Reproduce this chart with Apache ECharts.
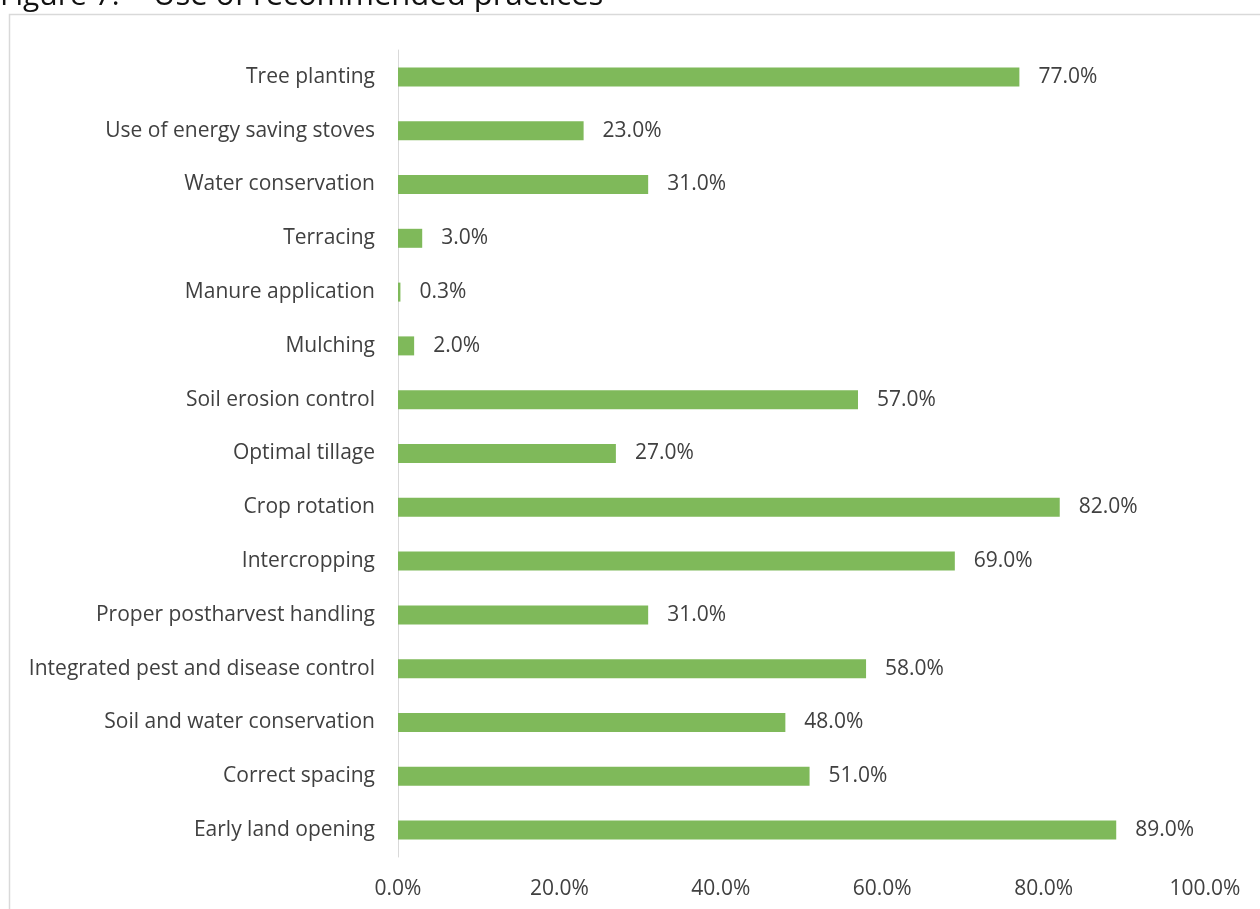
<!DOCTYPE html>
<html>
<head>
<meta charset="utf-8">
<script src="https://cdn.jsdelivr.net/npm/echarts@6/dist/echarts.min.js"></script>
<style>
  html, body { margin: 0; padding: 0; background: #fff; }
  #chart { width: 1260px; height: 909px; }
</style>
</head>
<body>
<div id="chart"></div>
<script>
// Practices, listed bottom to top as the category axis draws them
const practices = [
  'Early land opening',
  'Correct spacing',
  'Soil and water conservation',
  'Integrated pest and disease control',
  'Proper postharvest handling',
  'Intercropping',
  'Crop rotation',
  'Optimal tillage',
  'Soil erosion control',
  'Mulching',
  'Manure application',
  'Terracing',
  'Water conservation',
  'Use of energy saving stoves',
  'Tree planting'
];
// Share of respondents using each practice (%)
const usage = [89.0, 51.0, 48.0, 58.0, 31.0, 69.0, 82.0, 27.0, 57.0, 2.0, 0.3, 3.0, 31.0, 23.0, 77.0];
const xTicks = [0, 20, 40, 60, 80, 100];

const font = 'Open Sans, Noto Sans, sans-serif';
const chart = echarts.init(document.getElementById('chart'));
chart.setOption({
  animation: false,
  graphic: [
    {
      type: 'text', left: 0, top: -19,
      style: { text: 'Figure 7:', font: '30px ' + font, fill: '#111' }
    },
    {
      type: 'text', left: 153, top: -19,
      style: { text: 'Use of recommended practices', font: '31px ' + font, fill: '#111' }
    },
    {
      type: 'rect', shape: { x: 9.5, y: 14.5, width: 1300, height: 950 },
      style: { fill: 'none', stroke: '#d9d9d9', lineWidth: 1.5 }
    }
  ],
  grid: { left: 398, right: 55, top: 50, bottom: 52, containLabel: false },
  xAxis: {
    type: 'value', min: 0, max: 100, interval: 20,
    axisLine: { show: false }, axisTick: { show: false },
    splitLine: { show: false },
    axisLabel: {
      margin: 22, color: '#404040', fontSize: 21, fontFamily: font,
      formatter: v => xTicks.includes(v) ? v.toFixed(1) + '%' : ''
    }
  },
  yAxis: {
    type: 'category', data: practices,
    axisLine: { show: true, lineStyle: { color: '#d9d9d9', width: 1 } },
    axisTick: { show: false },
    axisLabel: { margin: 23, color: '#404040', fontSize: 21, fontFamily: font }
  },
  series: [{
    type: 'bar', data: usage, barWidth: 19,
    itemStyle: { color: '#7fb95a' },
    label: {
      show: true, position: 'right', distance: 19,
      color: '#404040', fontSize: 21, fontFamily: font,
      formatter: p => p.value.toFixed(1) + '%'
    }
  }]
});
</script>
</body>
</html>
